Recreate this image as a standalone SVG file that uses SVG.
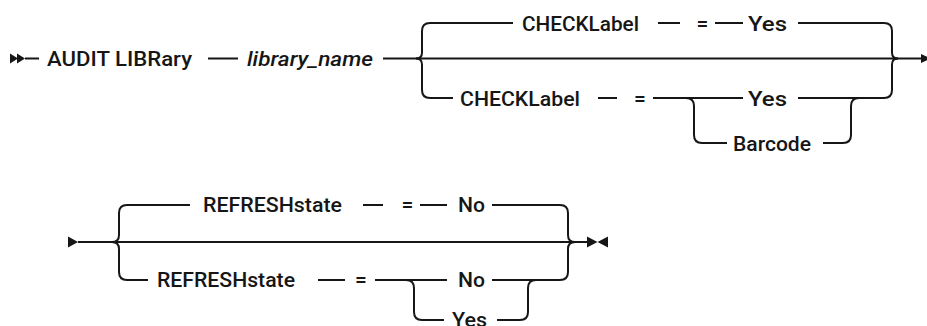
<svg xmlns="http://www.w3.org/2000/svg" width="927" height="326" viewBox="0 0 927 326">
<style>
text{font-family:Roboto,"Liberation Sans",Arial,sans-serif;font-size:21px;font-weight:500;fill:#161616}
.it{font-style:italic}
.ln{fill:none;stroke:#161616;stroke-width:2}
.ah{fill:#161616;stroke:none}
</style>
<rect width="927" height="326" fill="#fff"/>
<g id="connectors">
  <polygon class="ah" points="10,53.5 18,58.5 10,63.5"/>
  <polygon class="ah" points="17,53.5 25,58.5 17,63.5"/>
  <path class="ln" d="M25,58.5H39 M208,58.5H238 M383,58.5H921"/>
  <polygon class="ah" points="921,54 931,58.5 921,63"/>
  <path class="ln" d="M416,58.5 Q422,58.5 422,52.5 V31 Q422,23 430,23 H513"/>
  <path class="ln" d="M416,58.5 Q422,58.5 422,64.5 V90 Q422,98 430,98 H453"/>
  <path class="ln" d="M798,23 H884 Q892,23 892,31 V52.5 Q892,58.5 898,58.5"/>
  <path class="ln" d="M798,98 H884 Q892,98 892,90 V64.5 Q892,58.5 898,58.5"/>
  <path class="ln" d="M658,23H680 M715,23H743"/>
  <path class="ln" d="M598,98H617 M653,98H743"/>
  <path class="ln" d="M686,98 Q694,98 694,106 V135 Q694,143 702,143 H727"/>
  <path class="ln" d="M823,143 H843 Q851,143 851,135 V106 Q851,98 859,98"/>
  <polygon class="ah" points="68,236.5 78,242 68,247.5"/>
  <path class="ln" d="M78,242H587"/>
  <polygon class="ah" points="587,236.5 597.5,242 587,247.5"/>
  <polygon class="ah" points="608,236.5 597.5,242 608,247.5"/>
  <path class="ln" d="M112,242 Q119,242 119,235 V213 Q119,205 127,205 H190"/>
  <path class="ln" d="M112,242 Q119,242 119,249 V272 Q119,280 127,280 H148"/>
  <path class="ln" d="M492,205 H560 Q568,205 568,213 V235 Q568,242 575,242"/>
  <path class="ln" d="M492,280 H560 Q568,280 568,272 V249 Q568,242 575,242"/>
  <path class="ln" d="M363,205H383 M420,205H447"/>
  <path class="ln" d="M318,280H345 M375,280H447"/>
  <path class="ln" d="M406,280 Q414,280 414,288 V312 Q414,320 422,320 H444"/>
  <path class="ln" d="M497,320 H520 Q528,320 528,312 V288 Q528,280 536,280"/>
</g>
<g id="n-audit"><text x="47" y="66" textLength="145" lengthAdjust="spacingAndGlyphs">AUDIT LIBRary</text></g>
<g id="n-libname"><text class="it" x="247" y="66" textLength="126" lengthAdjust="spacingAndGlyphs">library_name</text></g>
<g id="n-check1"><text x="522" y="30.5" textLength="117" lengthAdjust="spacingAndGlyphs">CHECKLabel</text></g>
<g id="n-eq1"><text x="702.5" y="30.5" text-anchor="middle">=</text></g>
<g id="n-yes1"><text x="748" y="30.5" textLength="39" lengthAdjust="spacingAndGlyphs">Yes</text></g>
<g id="n-check2"><text x="460" y="105.5" textLength="120" lengthAdjust="spacingAndGlyphs">CHECKLabel</text></g>
<g id="n-eq2"><text x="640" y="105.5" text-anchor="middle">=</text></g>
<g id="n-yes2"><text x="748" y="105.5" textLength="39" lengthAdjust="spacingAndGlyphs">Yes</text></g>
<g id="n-barcode"><text x="733" y="150.5" textLength="78" lengthAdjust="spacingAndGlyphs">Barcode</text></g>
<g id="n-refresh1"><text x="203" y="212" textLength="139" lengthAdjust="spacingAndGlyphs">REFRESHstate</text></g>
<g id="n-eq3"><text x="407.5" y="212" text-anchor="middle">=</text></g>
<g id="n-no1"><text x="458" y="212" textLength="27" lengthAdjust="spacingAndGlyphs">No</text></g>
<g id="n-refresh2"><text x="157" y="287" textLength="138" lengthAdjust="spacingAndGlyphs">REFRESHstate</text></g>
<g id="n-eq4"><text x="361" y="287" text-anchor="middle">=</text></g>
<g id="n-no2"><text x="458" y="287" textLength="27" lengthAdjust="spacingAndGlyphs">No</text></g>
<g id="n-yes3"><text x="452" y="327" textLength="35" lengthAdjust="spacingAndGlyphs">Yes</text></g>
</svg>
